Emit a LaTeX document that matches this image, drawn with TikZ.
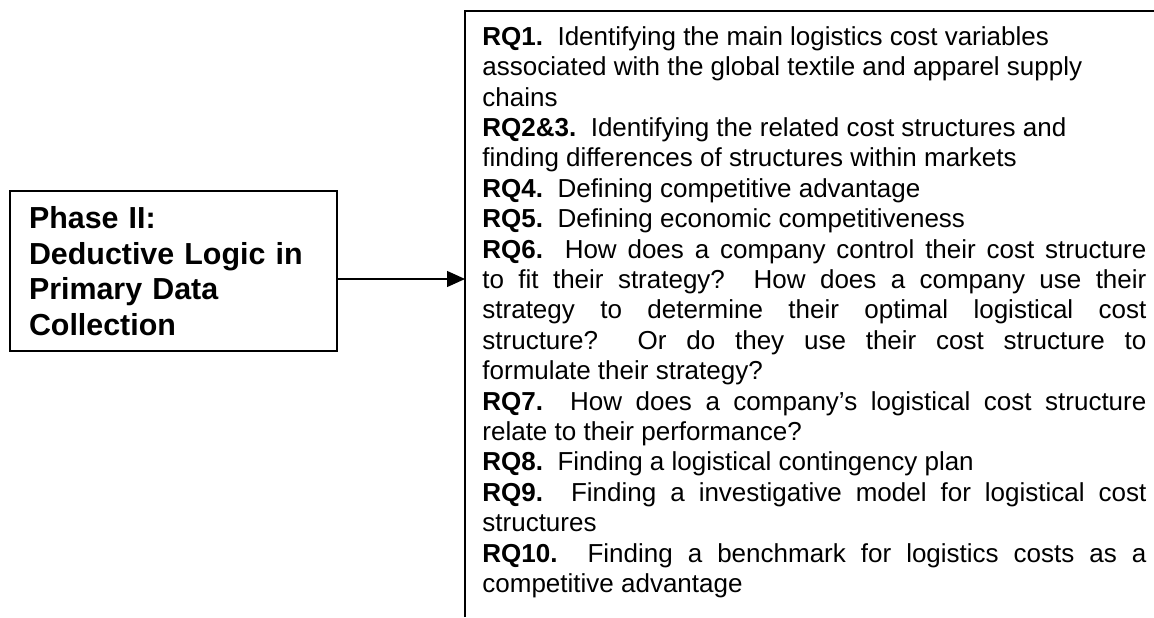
\documentclass[tikz,border=0pt]{standalone}
\usepackage{fontspec}
\setmainfont{Liberation Sans}
\usetikzlibrary{arrows.meta}
\tikzset{
  phasebox/.style={draw, line width=0.8pt, rectangle, minimum width=163.5pt, minimum height=80pt,
    inner xsep=9.5pt, inner ysep=0pt, text width=144.5pt, align=left,
    font=\fontsize{15.2}{17.75}\selectfont\bfseries},
  frameline/.style={line width=0.8pt},
  link/.style={line width=0.6pt, -{Triangle[length=9pt,width=8pt]}},
  rqtext/.style={inner sep=0pt, anchor=north west}
}
\begin{document}
\begin{tikzpicture}[x=1pt,y=1pt]
\useasboundingbox (0,0) rectangle (577,308.5);
\node[phasebox] (phase) at (86.75,173) {Phase II:\\Deductive Logic in\\Primary Data\\Collection};
\coordinate (bl) at (232.5,0);
\coordinate (tl) at (232.5,303);
\coordinate (tr) at (577,303);
\draw[frameline] (bl) -- (tl) -- (tr);
\coordinate (tip) at (232.5,169);
\draw[link] (phase.east |- tip) -- (tip);
\node[rqtext] (rq) at (241,295.5) {\parbox{332pt}{\fontsize{13}{15.2}\selectfont
\textbf{RQ1.}\ \ Identifying the main logistics cost variables\newline
associated with the global textile and apparel supply\newline
chains\newline
\textbf{RQ2\&3.}\ \ Identifying the related cost structures and\newline
finding differences of structures within markets\newline
\textbf{RQ4.}\ \ Defining competitive advantage\newline
\textbf{RQ5.}\ \ Defining economic competitiveness\newline
\textbf{RQ6.}\ \ How does a company control their cost structure\linebreak
to fit their strategy?\ \ How does a company use their\linebreak
strategy to determine their optimal logistical cost\linebreak
structure?\ \ Or do they use their cost structure to\linebreak
formulate their strategy?\newline
\textbf{RQ7.}\ \ How does a company’s logistical cost structure\linebreak
relate to their performance?\newline
\textbf{RQ8.}\ \ Finding a logistical contingency plan\newline
\textbf{RQ9.}\ \ Finding a investigative model for logistical cost\linebreak
structures\newline
\textbf{RQ10.}\ \ Finding a benchmark for logistics costs as a\linebreak
competitive advantage}};
\end{tikzpicture}
\end{document}
